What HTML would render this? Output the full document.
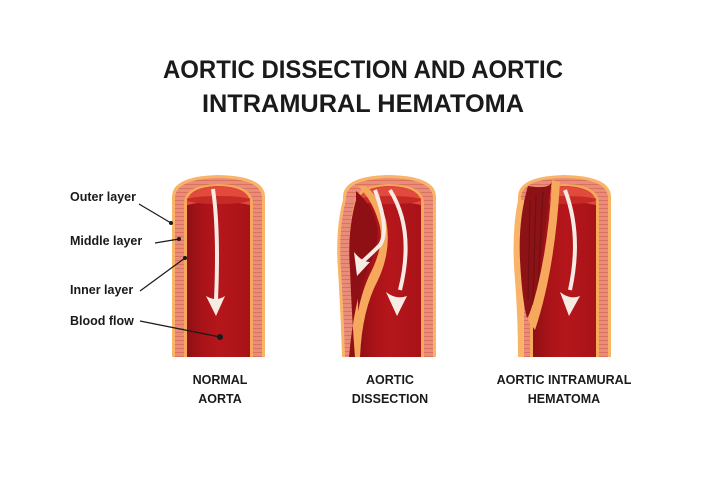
<!DOCTYPE html>
<html><head><meta charset="utf-8"><style>
html,body{margin:0;padding:0;background:#fff}
svg{display:block}
text{font-family:"Liberation Sans",sans-serif;font-weight:bold;fill:#1a1a1a}
</style></head><body>
<svg width="726" height="481" viewBox="0 0 726 481" xmlns="http://www.w3.org/2000/svg">
<defs>
<pattern id="st" width="10" height="4" patternUnits="userSpaceOnUse"><rect width="10" height="4" fill="#e98c79"/><rect width="10" height="1" y="3" fill="#d9735f"/></pattern>
<linearGradient id="lum" x1="0" x2="1"><stop offset="0" stop-color="#8f1014"/><stop offset="0.25" stop-color="#a91318"/><stop offset="0.5" stop-color="#b5161b"/><stop offset="1" stop-color="#a81318"/></linearGradient>
<g id="tube">
<path d="M0,184 V24 Q0,3 46.5,2 Q93,3 93,24 V184 Z" fill="#f9b46a"/>
<path d="M3,184 V25 Q3,6 46.5,5 Q90,6 90,25 V184 Z" fill="url(#st)"/>
<path d="M12,184 V30 Q12,12 46.5,11 Q81,12 81,30 V184 Z" fill="#f6a85c"/>
<path d="M15,184 V31 Q15,14 46.5,13 Q78,14 78,31 V184 Z" fill="url(#lum)"/>
<path d="M15,31 Q15,14 46.5,13 Q78,14 78,31 V25 H15 Z" fill="#e0453a"/>
<path d="M15,32 Q15,15 46.5,14 Q78,15 78,32 Q46,25 15,32 Z" fill="#e24a3e"/>
<ellipse cx="46.5" cy="27" rx="31.5" ry="4" fill="#c62a25"/>
</g>
</defs>

<text x="363" y="78" font-size="25" text-anchor="middle" textLength="400" lengthAdjust="spacingAndGlyphs">AORTIC DISSECTION AND AORTIC</text>
<text x="363" y="112" font-size="25" text-anchor="middle" textLength="322" lengthAdjust="spacingAndGlyphs">INTRAMURAL HEMATOMA</text>

<!-- normal -->
<use href="#tube" x="172" y="173"/>
<path d="M213,189 Q219,230 216,300" stroke="#f6ece4" stroke-width="4" fill="none"/>
<path d="M206,296 L216,316 L225,296 Q216,302 206,296 Z" fill="#f6ece4"/>

<!-- dissection -->
<use href="#tube" x="343" y="173"/>
<path d="M343,200 Q335,230 338,270 Q341,320 342,357 L356,357 Q354,320 357,290 L358,200 Z" fill="#f9b46a"/>
<path d="M346,200 Q338,230 341,270 Q344,320 345,357 L354,357 Q352,320 355,290 L356,200 Z" fill="url(#st)"/>
<path d="M355,200 Q347,232 350,270 Q353,320 355,357 L358,357 V200 Z" fill="#f6a85c"/>
<path d="M358,186 Q372,200 378,220 Q386,240 372,270 Q356,300 352,357 L360,357 Q362,310 378,280 Q392,250 386,220 Q380,198 366,186 Z" fill="#f6a85c"/>
<path d="M356,191 Q372,205 377,225 Q380,245 368,268 Q354,300 349,357 L355,357 Q352,320 350,270 Q347,232 356,200 Z" fill="#8e1014"/>
<path d="M375,190 Q390,230 380,245 Q370,255 362,262" stroke="#f6ece4" stroke-width="4" fill="none"/>
<path d="M354,252 L357,276 L370,262 Q362,262 354,252 Z" fill="#f6ece4"/>
<path d="M390,190 Q415,230 400,290" stroke="#f6ece4" stroke-width="4" fill="none"/>
<path d="M386,292 L397,316 L407,296 Q396,300 386,292 Z" fill="#f6ece4"/>

<!-- intramural -->
<use href="#tube" x="518" y="173"/>
<path d="M518,200 Q511,235 515,280 Q518,320 518,357 L524,357 V200 Z" fill="#f9b46a"/>
<path d="M528,186 Q552,190 552,180 Q545,230 540,270 Q533,310 527,318 Q522,300 520,260 Q518,220 528,186 Z" fill="#8c1216"/>
<path d="M530,200 L528,300 M536,195 L533,305 M543,192 L538,290" stroke="#701015" stroke-width="1.2" fill="none"/>
<path d="M552,180 Q548,260 528,320 L535,330 Q555,270 560,182 Z" fill="#f6a85c"/>
<path d="M565,190 Q582,235 570,290" stroke="#f6ece4" stroke-width="4" fill="none"/>
<path d="M560,292 L569,316 L580,296 Q570,300 560,292 Z" fill="#f6ece4"/>

<!-- labels -->
<text x="70" y="201" font-size="12.5">Outer layer</text>
<text x="70" y="245" font-size="12.5">Middle layer</text>
<text x="70" y="294" font-size="12.5">Inner layer</text>
<text x="70" y="325" font-size="12.5">Blood flow</text>
<g stroke="#1a1a1a" stroke-width="1.2">
<line x1="139" y1="204" x2="171" y2="223"/>
<line x1="155" y1="243" x2="179" y2="239"/>
<line x1="140" y1="291" x2="185" y2="258"/>
<line x1="140" y1="321" x2="220" y2="337"/>
</g>
<g fill="#1a1a1a"><circle cx="171" cy="223" r="2"/><circle cx="179" cy="239" r="2"/><circle cx="185" cy="258" r="2"/><circle cx="220" cy="337" r="3"/></g>

<g font-size="12.5" text-anchor="middle">
<text x="220" y="384">NORMAL</text><text x="220" y="403">AORTA</text>
<text x="390" y="384">AORTIC</text><text x="390" y="403">DISSECTION</text>
<text x="564" y="384">AORTIC INTRAMURAL</text><text x="564" y="403">HEMATOMA</text>
</g>
</svg>
</body></html>
